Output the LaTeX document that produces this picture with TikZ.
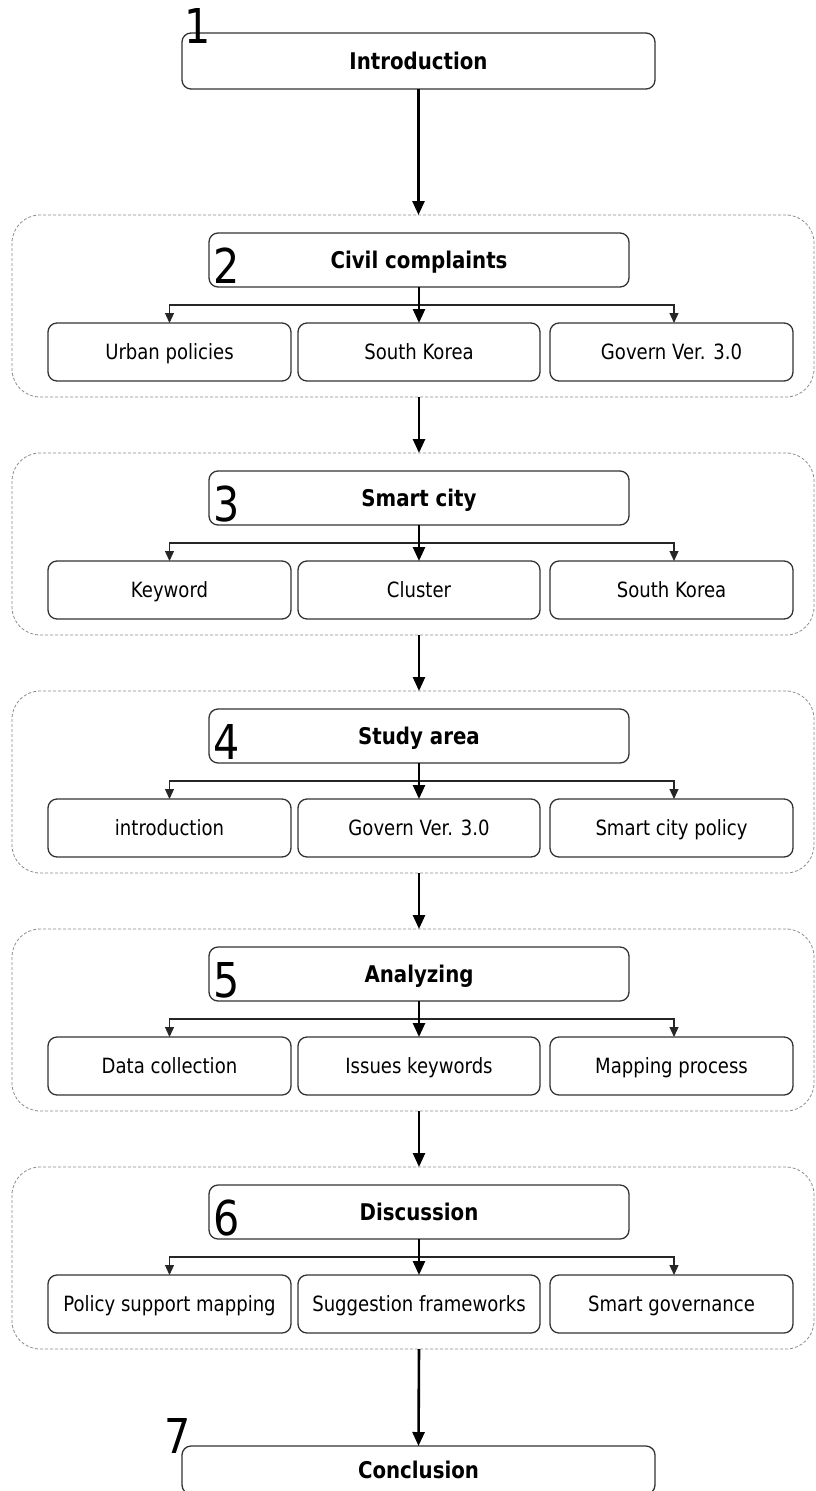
\documentclass[tikz,border=0pt]{standalone}
\usepackage{fontspec}
\setmainfont{DejaVu Sans}[FakeStretch=0.86]
\usetikzlibrary{arrows.meta}

\tikzset{
  x=1pt, y=-1pt,
  every node/.style={inner sep=0pt, outer sep=0pt},
  framebox/.style={draw=black!45, line width=0.8pt, dash pattern=on 3pt off 2pt,
    rounded corners=28pt},
  boxbase/.style={draw=black!80, line width=1.3pt, rounded corners=9pt, fill=white,
    text depth=0pt},
  headbox/.style={boxbase, minimum width=420pt, minimum height=54pt,
    text height=16.8pt, font=\fontsize{23}{26}\selectfont\bfseries},
  endbox/.style={boxbase, minimum width=473pt, minimum height=56pt,
    text height=16.8pt, font=\fontsize{23}{26}\selectfont\bfseries},
  subbox/.style={boxbase, minimum width=243pt, minimum height=58pt,
    text height=15.3pt, font=\fontsize{21}{24}\selectfont},
  numlabel/.style={anchor=base west, font=\fontsize{48}{50}\selectfont},
  mainarrow/.style={draw=black, line width=2.6pt,
    -{Triangle[length=14pt, width=12pt]}},
  brancharrow/.style={draw=black!85, line width=1.2pt,
    -{Triangle[length=10pt, width=9pt]}},
}

\begin{document}
\begin{tikzpicture}
\useasboundingbox (0,0) rectangle (815,1491);
\clip (0,0) rectangle (815,1491);

% opening step
\node[endbox] (intro) at (418.5,61) {Introduction};
\node[numlabel] (n1) at (184,43) {1};

% grouped steps: number / heading / three sub-topics
\foreach \i/\head/\ta/\tb/\tc in {
  2/Civil complaints/Urban policies/South Korea/Govern Ver. 3.0,
  3/Smart city/Keyword/Cluster/South Korea,
  4/Study area/introduction/Govern Ver. 3.0/Smart city policy,
  5/Analyzing/Data collection/Issues keywords/Mapping process,
  6/Discussion/Policy support mapping/Suggestion frameworks/Smart governance}{
  \pgfmathsetmacro{\Y}{215+(\i-2)*238}
  \node[framebox, minimum width=802pt, minimum height=182pt] (frame\i) at (413,\Y+91) {};
  \node[headbox] (h\i) at (419,\Y+45) {\head};
  \node[numlabel] (n\i) at (213,\Y+68) {\i};
  \node[subbox] (a\i) at (169.5,\Y+137) {\ta};
  \node[subbox, minimum width=242pt] (b\i) at (419,\Y+137) {\tb};
  \node[subbox] (c\i) at (671.5,\Y+137) {\tc};
  \coordinate (j\i) at (419,\Y+90);
  \draw[brancharrow] (j\i) -| (a\i.north);
  \draw[brancharrow] (j\i) -| ([xshift=2.5pt]c\i.north);
  \draw[mainarrow] (h\i.south) -- (b\i.north);
}

% closing step (runs past the lower edge)
\node[endbox, minimum height=48pt] (concl) at (418.5,1470) {Conclusion};
\node[numlabel] (n7) at (164,1453) {7};

% flow between steps
\draw[mainarrow] (intro.south) -- (intro.south |- frame2.north);
\foreach \i/\j in {2/3,3/4,4/5,5/6}{
  \draw[mainarrow] (h\i.south |- frame\i.south) -- (h\i.south |- frame\j.north);
}
\draw[mainarrow] (h6.south |- frame6.south) -- (concl.north);
\end{tikzpicture}
\end{document}
